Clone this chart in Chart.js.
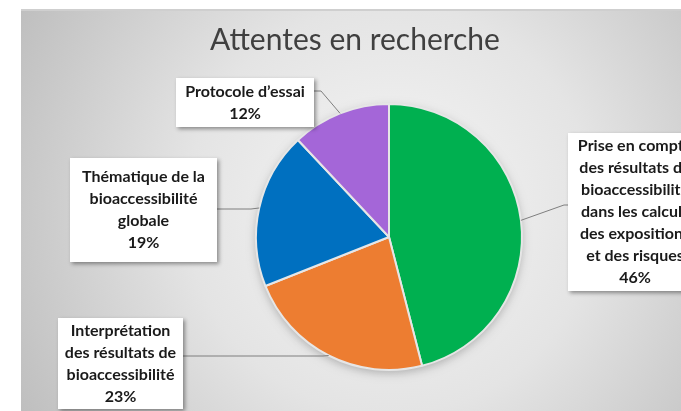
<!DOCTYPE html>
<html>
<head>
<meta charset="utf-8">
<script src="https://cdn.jsdelivr.net/npm/chart.js@4/dist/chart.umd.min.js"></script>
<style>
  html, body { margin: 0; padding: 0; background: #fff; }
  #wrap { position: absolute; left: 21px; top: 9px; width: 660px; height: 402px; }
</style>
</head>
<body>
<div id="wrap"><canvas id="pieChart"></canvas></div>
<script>
// Data
const categories = [
  "Prise en compte des résultats de bioaccessibilité dans les calculs des expositions et des risques",
  "Interprétation des résultats de bioaccessibilité",
  "Thématique de la bioaccessibilité globale",
  "Protocole d’essai"
];
const shares = [46, 23, 19, 12];
const sliceColors = ["#00b050", "#ed7d31", "#0070c0", "#a466d8"];

// Label boxes (text lines shown in each callout)
const labelLines = [
  ["Prise en compte", "des résultats de", "bioaccessibilité", "dans les calculs", "des expositions", "et des risques", "46%"],
  ["Interprétation", "des résultats de", "bioaccessibilité", "23%"],
  ["Thématique de la", "bioaccessibilité", "globale", "19%"],
  ["Protocole d’essai", "12%"]
];

// Box layout in canvas px: x, y, w, h, side where leader attaches, attach y
const boxLayout = [
  { x: 547, y: 124, w: 140, h: 158, side: "left", ay: 196, elbow: 4, tx: 614 },
  { x: 37, y: 309, w: 125, h: 91, side: "right", ay: 347, elbow: 140 },
  { x: 49, y: 149, w: 147, h: 104, side: "right", ay: 200, elbow: 34 },
  { x: 155, y: 69, w: 138, h: 49, side: "right", ay: 82, elbow: 7 }
];

const bgPlugin = {
  id: "bgPlugin",
  beforeDraw(chart) {
    const ctx = chart.ctx;
    const w = chart.width, h = chart.height;
    const g = ctx.createRadialGradient(370, 200, 20, 370, 200, 430);
    g.addColorStop(0, "#f4f4f4");
    g.addColorStop(0.45, "#e4e4e4");
    g.addColorStop(1, "#bdbdbd");
    ctx.save();
    ctx.fillStyle = g;
    ctx.fillRect(0, 0, w, h);
    ctx.fillStyle = "#cfcfcf";
    ctx.fillRect(0, 0, w, 2);
    // title
    ctx.fillStyle = "#404040";
    ctx.font = "30px Lato, 'Open Sans', sans-serif";
    ctx.textAlign = "center";
    ctx.textBaseline = "middle";
    ctx.fillText("Attentes en recherche", 334, 31);
    // soft shadow under the pie
    const meta = chart.getDatasetMeta(0);
    if (meta.data.length) {
      const a = meta.data[0];
      ctx.shadowColor = "rgba(0,0,0,0.25)";
      ctx.shadowBlur = 10;
      ctx.shadowOffsetY = 3;
      ctx.beginPath();
      ctx.arc(a.x, a.y, a.outerRadius, 0, Math.PI * 2);
      ctx.fillStyle = "#e0e0e0";
      ctx.fill();
    }
    ctx.restore();
  }
};

const calloutPlugin = {
  id: "calloutPlugin",
  afterDatasetsDraw(chart) {
    const ctx = chart.ctx;
    const meta = chart.getDatasetMeta(0);
    ctx.save();
    meta.data.forEach((arc, i) => {
      const b = boxLayout[i];
      const mid = (arc.startAngle + arc.endAngle) / 2;
      const ax = arc.x + Math.cos(mid) * arc.outerRadius;
      const ay = arc.y + Math.sin(mid) * arc.outerRadius;
      const ex = b.side === "left" ? b.x - b.elbow : b.x + b.w + b.elbow;
      const bx = b.side === "left" ? b.x : b.x + b.w;
      ctx.strokeStyle = "#7f7f7f";
      ctx.lineWidth = 1;
      ctx.beginPath();
      ctx.moveTo(ax, ay);
      ctx.lineTo(ex, b.ay);
      ctx.lineTo(bx, b.ay);
      ctx.stroke();

      // box with shadow
      ctx.save();
      ctx.shadowColor = "rgba(0,0,0,0.4)";
      ctx.shadowBlur = 4;
      ctx.shadowOffsetX = 2;
      ctx.shadowOffsetY = 2;
      ctx.fillStyle = "#ffffff";
      ctx.fillRect(b.x, b.y, b.w, b.h);
      ctx.restore();

      ctx.fillStyle = "#1a1a1a";
      ctx.font = "bold 16px Lato, 'Open Sans', sans-serif";
      ctx.textAlign = "center";
      ctx.textBaseline = "middle";
      const lines = labelLines[i];
      const lh = 22;
      const top = b.y + b.h / 2 - (lines.length - 1) * lh / 2;
      const cx = b.tx !== undefined ? b.tx : b.x + b.w / 2;
      lines.forEach((t, k) => {
        ctx.fillText(t, cx, top + k * lh);
      });
    });
    ctx.restore();
  }
};

new Chart(document.getElementById("pieChart"), {
  type: "pie",
  data: {
    labels: categories,
    datasets: [{
      data: shares,
      backgroundColor: sliceColors,
      borderColor: "#e6e6e6",
      borderWidth: 2
    }]
  },
  options: {
    responsive: true,
    maintainAspectRatio: false,
    animation: false,
    layout: { padding: { left: 234, right: 158, top: 94, bottom: 40 } },
    plugins: {
      legend: { display: false },
      title: { display: false },
      tooltip: { enabled: false }
    }
  },
  plugins: [bgPlugin, calloutPlugin]
});
</script>
</body>
</html>
